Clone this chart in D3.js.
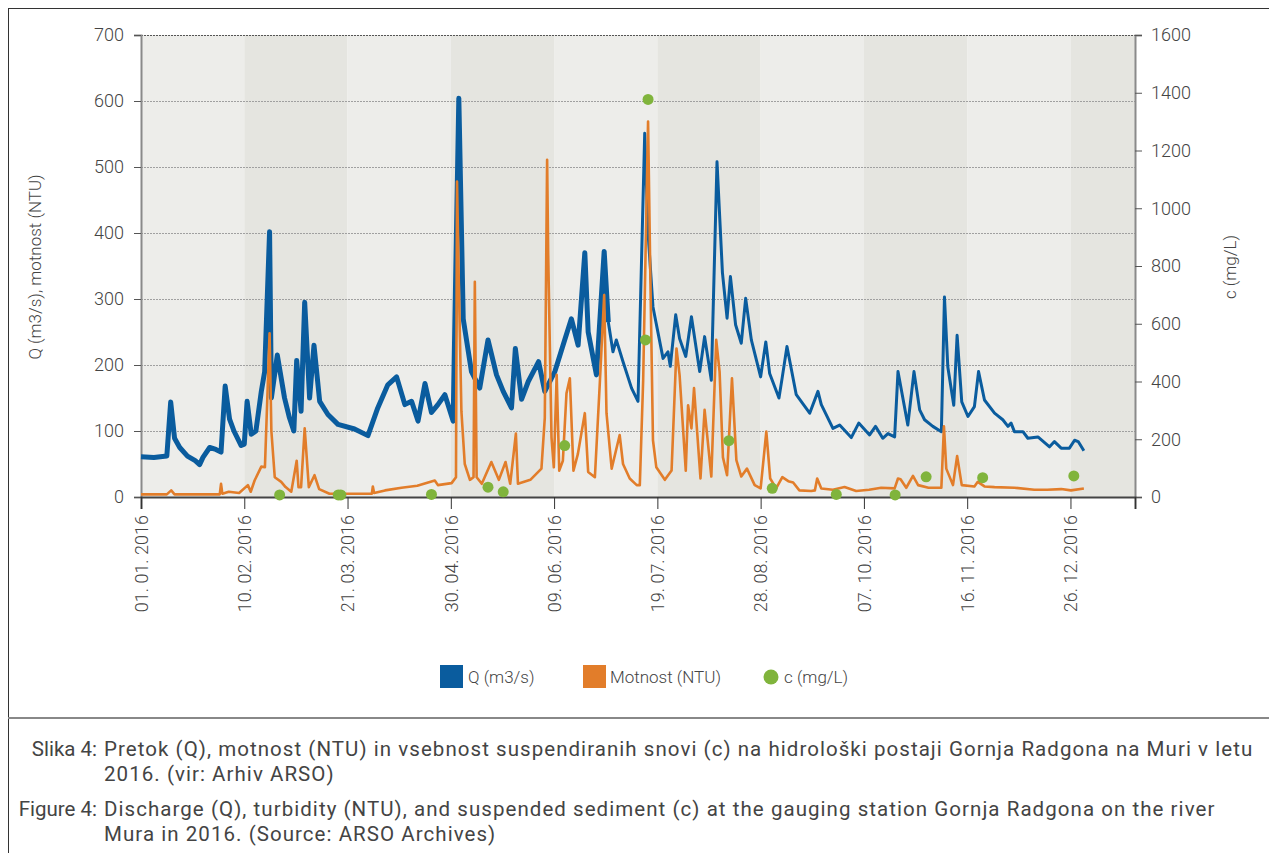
<!DOCTYPE html>
<html>
<head>
<meta charset="utf-8">
<script src="https://cdn.jsdelivr.net/npm/d3@7"></script>
<style>
  body { margin: 0; background: #fff; }
  svg text { font-family: Roboto, "Liberation Sans", sans-serif; fill: #444; }
</style>
</head>
<body>
<svg id="chart" width="1269" height="853"></svg>
<script>
// Q (m3/s) - day of year 2016 and value
const qDays = [0, 5, 10, 11.5, 13, 15, 18, 21, 22.7, 24, 26.6, 29, 31, 32.6, 34.3, 36, 38.8, 40, 41.1, 42.7, 44.5, 46.6, 47.9, 49.8, 50.5, 52.8, 55.6, 57.5, 59.2, 60.3, 62, 63.4, 65.3, 67, 69.2, 72.4, 76.3, 82.7, 87.9, 91.7, 95.6, 99, 102.2, 104.8, 107.3, 110, 112.5, 115, 117.7, 120.9, 123.1, 124.8, 128, 131.2, 134.4, 137.7, 140.3, 143.5, 145, 147.4, 150, 154, 156.4, 160.3, 164.1, 166.7, 169.3, 171.9, 173.2, 176.4, 179.4, 181, 182.8, 184.1, 186.7, 190, 192.5, 195.1, 196.4, 198.3, 202.2, 204.1, 205, 207.1, 208.6, 211, 213.2, 216.4, 218.3, 220.9, 223.1, 225.2, 227, 228.3, 230.3, 232.5, 234.2, 236.4, 240, 242, 243.5, 247.1, 248.4, 250.2, 253.8, 259, 262.2, 263.5, 268, 270.6, 275.1, 278, 282.2, 284.5, 287.3, 289.3, 291.9, 293.2, 297, 299.4, 301.6, 303.5, 306.7, 310, 311.2, 312.5, 314.8, 316.1, 317.9, 320.3, 322.8, 324.4, 326.7, 330.6, 333.8, 335.8, 337, 338.3, 341.6, 343.5, 347.4, 351.9, 353.8, 356.4, 359.6, 361.6, 363, 365.2];
const qVals = [61, 60, 62, 144, 89, 75, 62, 55, 49, 60, 75, 72, 68, 168, 118, 100, 78, 80, 145, 95, 100, 160, 190, 402, 150, 215, 150, 120, 100, 207, 130, 295, 150, 230, 145, 125, 110, 103, 93, 135, 170, 182, 140, 145, 115, 172, 128, 140, 155, 115, 604, 270, 190, 165, 238, 185, 160, 135, 225, 148, 175, 205, 160, 190, 238, 270, 230, 370, 250, 185, 372, 265, 220, 238, 205, 165, 145, 551, 400, 288, 210, 220, 198, 276, 240, 213, 273, 190, 243, 177, 508, 340, 271, 334, 261, 233, 301, 238, 182, 235, 187, 150, 182, 228, 155, 127, 160, 140, 104, 109, 90, 112, 94, 107, 89, 96, 91, 190, 109, 190, 132, 117, 107, 99, 303, 197, 139, 245, 144, 122, 137, 190, 147, 127, 117, 107, 112, 99, 99, 89, 91, 76, 84, 74, 74, 86, 84, 70];

// Motnost (NTU)
const ntuDays = [0, 10, 11.7, 13, 30.5, 31, 31.5, 34, 38, 41.4, 42.5, 44, 46.6, 48, 49.8, 50.5, 51.8, 54.3, 56, 58.2, 60.3, 61, 62, 63.4, 65, 67.2, 69, 73, 80, 89.4, 89.8, 90.3, 94.5, 100.9, 107, 113.8, 115, 120.3, 122, 122.4, 123.1, 124.1, 125.4, 127.4, 128.8, 129.3, 130, 132, 135.7, 138.6, 141.2, 143, 145.2, 146, 150.8, 155.1, 156.4, 157.3, 157.7, 159, 159.9, 161, 162, 163.4, 164.8, 166.1, 167.5, 169.2, 171.9, 173.2, 175.8, 177.7, 179.4, 180.3, 182.3, 185.4, 186.7, 189.3, 192, 193.2, 194.5, 196.4, 197.3, 198.3, 199.6, 202.9, 205.5, 207.4, 208.6, 211, 211.9, 213.2, 214.2, 216.7, 218.3, 220.9, 222.8, 224.1, 225.4, 227, 228.9, 230.6, 232.5, 234.7, 237.7, 240, 242.2, 243.7, 246, 248.4, 250.7, 252.6, 255, 259.6, 261, 261.9, 263.5, 268, 272.5, 277, 282, 286.7, 291.9, 293.2, 294.2, 296.4, 299, 301, 305, 310, 311, 311.9, 314.5, 316.1, 317.9, 322.8, 324.1, 326.7, 330.6, 338.3, 346, 351, 356.4, 360.2, 365.2];
const ntuVals = [4, 4, 10, 4, 4, 20, 5, 8, 6, 18, 8, 25, 46, 45, 248, 100, 30, 23, 15, 8, 55, 15, 15, 104, 15, 33, 12, 5, 5, 5, 16, 6, 10, 14, 17, 25, 18, 21, 30, 478, 325, 130, 50, 26, 30, 326, 30, 20, 53, 26, 53, 20, 96, 20, 26, 43, 120, 511, 370, 90, 45, 185, 40, 55, 157, 180, 40, 65, 127, 38, 30, 172, 306, 127, 43, 94, 50, 28, 18, 18, 177, 569, 330, 86, 45, 26, 40, 225, 185, 40, 139, 104, 165, 28, 132, 31, 238, 190, 60, 33, 180, 56, 31, 43, 18, 13, 99, 28, 13, 30, 24, 22, 10, 9, 10, 28, 13, 11, 15, 9, 11, 14, 13, 28, 27, 14, 32, 18, 14, 14, 107, 43, 18, 62, 18, 16, 23, 16, 15, 14, 11, 11, 12, 10, 13];

// c (mg/L) samples
const cDays = [53.7, 76.4, 77.4, 112.5, 134.4, 140.3, 164.1, 195.4, 196.4, 227.7, 244.5, 269.3, 292.1, 304.1, 326, 361.3];
const cVals = [7, 7, 7, 9, 34, 18, 178, 544, 1377, 195, 30, 9, 7, 70, 67, 73];

// x ticks every 40 days from 1 Jan
const tickDays = [0, 40, 80, 120, 160, 200, 240, 280, 320, 360];
const endDay = 385;

const leftTicks = [0, 100, 200, 300, 400, 500, 600, 700];
const rightTicks = [0, 200, 400, 600, 800, 1000, 1200, 1400, 1600];

const blue = "#0a5c9e";
const orange = "#e27d2a";
const green = "#80b43c";

const svg = d3.select("#chart");
const margin = { left: 141, right: 1135, top: 35, bottom: 497 };

const t0 = Date.UTC(2016, 0, 1);
const toDate = d => new Date(t0 + d * 864e5);

const x = d3.scaleUtc()
    .domain([toDate(0), toDate(endDay)])
    .range([margin.left, margin.right]);
const yL = d3.scaleLinear().domain([0, 700]).range([margin.bottom, margin.top]);
const yR = d3.scaleLinear().domain([0, 1600]).range([margin.bottom, margin.top]);

// outer frame
svg.append("line").attr("x1", 8).attr("x2", 1269).attr("y1", 8.5).attr("y2", 8.5)
    .attr("stroke", "#333").attr("stroke-width", 1);
svg.append("line").attr("x1", 8.5).attr("x2", 8.5).attr("y1", 8).attr("y2", 853)
    .attr("stroke", "#333").attr("stroke-width", 1);
svg.append("line").attr("x1", 8).attr("x2", 1269).attr("y1", 718).attr("y2", 718)
    .attr("stroke", "#888").attr("stroke-width", 2);

// alternating bands
const bandEdges = tickDays.concat([endDay]);
svg.append("g").selectAll("rect")
    .data(d3.pairs(bandEdges))
    .join("rect")
    .attr("x", d => x(toDate(d[0])))
    .attr("width", d => x(toDate(d[1])) - x(toDate(d[0])))
    .attr("y", margin.top)
    .attr("height", margin.bottom - margin.top)
    .attr("fill", (d, i) => i % 2 ? "#e5e5e0" : "#ededea");

// gridlines
svg.append("g").selectAll("line")
    .data(leftTicks.slice(1))
    .join("line")
    .attr("x1", margin.left).attr("x2", margin.right)
    .attr("y1", d => Math.round(yL(d)) + 0.5).attr("y2", d => Math.round(yL(d)) + 0.5)
    .attr("stroke", d => d === 700 ? "#555" : "#a0a0a0")
    .attr("stroke-dasharray", "2,1")
    .attr("stroke-width", 1);

// axes
const leftAxis = svg.append("g")
    .attr("transform", `translate(${margin.left},0)`)
    .call(d3.axisLeft(yL).tickValues(leftTicks).tickSize(7).tickPadding(10));
const rightAxis = svg.append("g")
    .attr("transform", `translate(${margin.right},0)`)
    .call(d3.axisRight(yR).tickValues(rightTicks).tickFormat(d3.format("d")).tickSize(7).tickPadding(9));
const bottomAxis = svg.append("g")
    .attr("transform", `translate(0,${margin.bottom})`)
    .call(d3.axisBottom(x).tickValues(tickDays.map(toDate).concat([toDate(endDay)]))
        .tickSize(12).tickFormat(d => +d === +toDate(endDay) ? "" : d3.utcFormat("%d. %m. %Y")(d)));

[leftAxis, rightAxis].forEach(a => {
  a.select(".domain").attr("stroke", "#8a8a8a").attr("stroke-width", 2);
  a.selectAll(".tick line").attr("stroke", "#555");
  a.selectAll(".tick text").style("font-size", "18px").style("font-weight", 300).attr("fill", "#444");
});
bottomAxis.select(".domain").attr("stroke", "#444").attr("stroke-width", 2);
bottomAxis.selectAll(".tick line").attr("stroke", "#333");
bottomAxis.selectAll(".tick text")
    .style("font-size", "18px").style("font-weight", 300).attr("fill", "#444")
    .attr("transform", "rotate(-90)")
    .attr("text-anchor", "end")
    .attr("x", -18).attr("y", 0).attr("dy", "0.35em");

// axis titles
svg.append("text")
    .attr("transform", "translate(41,267) rotate(-90)")
    .attr("text-anchor", "middle")
    .style("font-size", "17px").style("font-weight", 300)
    .text("Q (m3/s), motnost (NTU)");
svg.append("text")
    .attr("transform", "translate(1236,267) rotate(-90)")
    .attr("text-anchor", "middle")
    .style("font-size", "17px").style("font-weight", 300)
    .text("c (mg/L)");

// lines
const qData = qDays.map((d, i) => ({ d, v: qVals[i] }));
const ntuData = ntuDays.map((d, i) => ({ d, v: ntuVals[i] }));
const line = d3.line().x(p => x(toDate(p.d))).y(p => yL(p.v));

// noisy sub-daily part drawn thicker
svg.append("path").datum(qData.filter(p => p.d <= 182))
    .attr("d", line).attr("fill", "none").attr("stroke", blue)
    .attr("stroke-width", 5).attr("stroke-linejoin", "round");
svg.append("path").datum(qData.filter(p => p.d >= 181))
    .attr("d", line).attr("fill", "none").attr("stroke", blue)
    .attr("stroke-width", 3).attr("stroke-linejoin", "round");

svg.append("path").datum(ntuData)
    .attr("d", line).attr("fill", "none").attr("stroke", orange)
    .attr("stroke-width", 2.6).attr("stroke-linejoin", "round");

// c points
svg.append("g").selectAll("circle")
    .data(cDays.map((d, i) => ({ d, v: cVals[i] })))
    .join("circle")
    .attr("cx", p => x(toDate(p.d)))
    .attr("cy", p => yR(p.v))
    .attr("r", 5.5)
    .attr("fill", green);

// legend
const legend = svg.append("g");
legend.append("rect").attr("x", 440).attr("y", 665).attr("width", 23).attr("height", 23).attr("fill", blue);
legend.append("text").attr("x", 468).attr("y", 683).style("font-size", "17px").style("font-weight", 300).text("Q (m3/s)");
legend.append("rect").attr("x", 583).attr("y", 665).attr("width", 23).attr("height", 23).attr("fill", orange);
legend.append("text").attr("x", 610).attr("y", 683).style("font-size", "17px").style("font-weight", 300).text("Motnost (NTU)");
legend.append("circle").attr("cx", 771).attr("cy", 677).attr("r", 7.5).attr("fill", green);
legend.append("text").attr("x", 784).attr("y", 683).style("font-size", "17px").style("font-weight", 300).text("c (mg/L)");

// caption
const cap = svg.append("g").style("font-size", "20.5px");
const capRows = [
  { lab: "Slika 4:", y: 756, t: "Pretok (Q), motnost (NTU) in vsebnost suspendiranih snovi (c) na hidrološki postaji Gornja Radgona na Muri v letu" },
  { lab: "", y: 781, t: "2016. (vir: Arhiv ARSO)" },
  { lab: "Figure 4:", y: 816, t: "Discharge (Q), turbidity (NTU), and suspended sediment (c) at the gauging station Gornja Radgona on the river" },
  { lab: "", y: 841, t: "Mura in 2016. (Source: ARSO Archives)" }
];
capRows.forEach(r => {
  if (r.lab) {
    cap.append("text").attr("x", 97).attr("y", r.y)
        .attr("text-anchor", "end").attr("fill", "#222").text(r.lab);
  }
  cap.append("text").attr("x", 104).attr("y", r.y)
      .style("letter-spacing", "1.05px").attr("fill", "#222").text(r.t);
});
</script>
</body>
</html>
